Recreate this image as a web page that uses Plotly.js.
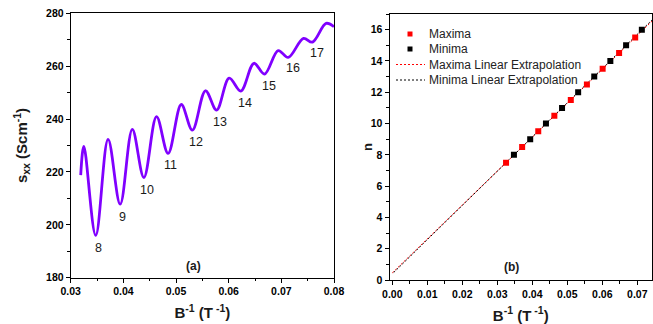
<!DOCTYPE html>
<html>
<head>
<meta charset="utf-8">
<script src="https://cdn.plot.ly/plotly-3.0.1.min.js"></script>
<style>html,body{margin:0;padding:0;background:#fff;}#chart{width:653px;height:324px;}</style>
</head>
<body>
<div id="chart"></div>
<script>
// ---- Data ----
// (a) sigma_xx vs inverse field: extrema of the oscillating curve plus end points
const curveX = [0.0319, 0.0325, 0.03475, 0.0371, 0.0394, 0.0417, 0.0439, 0.0463, 0.0485, 0.0510, 0.0531, 0.0556, 0.0577, 0.0601, 0.0623, 0.0648, 0.0668, 0.0694, 0.0713, 0.0742, 0.0759, 0.0785, 0.0800];
const curveY = [218.8, 229.7, 196.0, 232.3, 207.8, 236.1, 217.9, 240.9, 227.0, 245.5, 235.8, 250.7, 243.4, 255.5, 250.6, 261.1, 257.0, 265.9, 263.3, 270.5, 269.1, 276.2, 274.9];
// Landau level labels for the minima
const levelLabels = ['8', '9', '10', '11', '12', '13', '14', '15', '16', '17'];
const levelLabelX = [0.0352, 0.0398, 0.0444, 0.0490, 0.0537, 0.0583, 0.0631, 0.0676, 0.0723, 0.0768];
const levelLabelY = [191.4, 203.0, 213.1, 222.8, 231.4, 238.9, 246.2, 252.6, 259.4, 265.1];
// (b) Landau fan diagram
const maximaX = [0.0325, 0.0371, 0.0417, 0.0463, 0.0510, 0.0556, 0.0601, 0.0648, 0.0694];
const maximaN = [7.5, 8.5, 9.5, 10.5, 11.5, 12.5, 13.5, 14.5, 15.5];
const minimaX = [0.03475, 0.0394, 0.0439, 0.0485, 0.0531, 0.0577, 0.0623, 0.0668, 0.0713];
const minimaN = [8, 9, 10, 11, 12, 13, 14, 15, 16];
const extrapRange = [0, 0.075];
const seriesNames = ['Maxima', 'Minima', 'Maxima Linear Extrapolation', 'Minima Linear Extrapolation'];

// ---- helpers ----
function linfit(xs, ys) {
  const n = xs.length;
  const mx = xs.reduce((a, b) => a + b, 0) / n;
  const my = ys.reduce((a, b) => a + b, 0) / n;
  let sxy = 0, sxx = 0;
  for (let i = 0; i < n; i++) { sxy += (xs[i] - mx) * (ys[i] - my); sxx += (xs[i] - mx) ** 2; }
  const m = sxy / sxx;
  return { m: m, b: my - m * mx };
}
const W = 653, H = 324;
const px = v => v / W;
const py = v => 1 - v / H;

const fitMax = linfit(maximaX, maximaN);
const fitMin = linfit(minimaX, minimaN);

const FONT = 'Liberation Sans, Arial, sans-serif';
const TXT = '#1a1a1a';

const traces = [
  { x: curveX, y: curveY, xaxis: 'x', yaxis: 'y', mode: 'lines', type: 'scatter',
    line: { color: '#8000ff', width: 2.8, shape: 'spline', smoothing: 1 }, showlegend: false, hoverinfo: 'skip' },
  { x: extrapRange, y: extrapRange.map(v => fitMax.m * v + fitMax.b), xaxis: 'x2', yaxis: 'y2', mode: 'lines', type: 'scatter',
    name: seriesNames[2], line: { color: '#ff0000', width: 1, dash: '2px,2px' }, showlegend: false },
  { x: extrapRange, y: extrapRange.map(v => fitMin.m * v + fitMin.b), xaxis: 'x2', yaxis: 'y2', mode: 'lines', type: 'scatter',
    name: seriesNames[3], line: { color: '#000000', width: 1, dash: '0px,2px,2px,0px' }, showlegend: false },
  { x: maximaX, y: maximaN, xaxis: 'x2', yaxis: 'y2', mode: 'markers', type: 'scatter', name: seriesNames[0],
    marker: { symbol: 'square', size: 6, color: '#ff0000', line: { width: 0 } }, showlegend: false },
  { x: minimaX, y: minimaN, xaxis: 'x2', yaxis: 'y2', mode: 'markers', type: 'scatter', name: seriesNames[1],
    marker: { symbol: 'square', size: 6, color: '#000000', line: { width: 0 } }, showlegend: false }
];

const tickFont = { family: FONT, size: 10.5, color: '#000' };
const titleFont = { family: FONT, size: 15, color: TXT };

function baseAxis(extra) {
  return Object.assign({
    showgrid: false, zeroline: false, showline: true, linecolor: '#000', linewidth: 1,
    ticks: 'outside', ticklen: 4, tickwidth: 1, tickcolor: '#000', mirror: true,
    tickfont: tickFont, tickprefix: '<b>', ticksuffix: '</b>', automargin: false, fixedrange: true
  }, extra);
}
function mirrorAxis(extra) {
  return Object.assign({
    showgrid: false, zeroline: false, showline: false, ticks: 'inside', ticklen: 4, tickwidth: 1,
    tickcolor: '#000', showticklabels: false, automargin: false, fixedrange: true
  }, extra);
}

const dA_x = [px(70.7), px(334)], dA_y = [py(277.7), py(13.3)];
const dB_x = [px(389.5), px(652)], dB_y = [py(280), py(14)];

const layout = {
  width: W, height: H,
  margin: { l: 0, r: 0, t: 0, b: 0 },
  paper_bgcolor: '#fff', plot_bgcolor: '#fff',
  showlegend: false,
  font: { family: FONT, color: TXT },
  xaxis: baseAxis({ domain: dA_x, anchor: 'y', range: [0.03, 0.08], dtick: 0.01, tickformat: '.2f',
    minor: { ticks: 'outside', ticklen: 2.5, dtick: 0.005, tickcolor: '#000' },
    title: { text: '<b>B<sup>-1</sup> (T<sup> -1</sup>)</b>', font: titleFont, standoff: 11 } }),
  yaxis: baseAxis({ domain: dA_y, anchor: 'x', range: [180, 280], dtick: 20,
    minor: { ticks: 'outside', ticklen: 2.5, dtick: 10, tickcolor: '#000' },
    title: { text: '<b>s<sub>xx</sub> (Scm<sup>-1</sup>)</b>', font: titleFont, standoff: 14 } }),
  xaxis3: mirrorAxis({ overlaying: 'x', matches: 'x', side: 'top', anchor: 'y', range: [0.03, 0.08], dtick: 0.01,
    minor: { ticks: 'inside', ticklen: 2.5, dtick: 0.005, tickcolor: '#000' } }),
  yaxis3: mirrorAxis({ overlaying: 'y', matches: 'y', side: 'right', anchor: 'x', range: [180, 280], dtick: 20,
    minor: { ticks: 'inside', ticklen: 2.5, dtick: 10, tickcolor: '#000' } }),
  xaxis2: baseAxis({ domain: dB_x, anchor: 'y2', range: [-0.0008, 0.0742], tick0: 0, dtick: 0.01, tickformat: '.2f',
    minor: { ticks: 'outside', ticklen: 2.5, dtick: 0.005, tickcolor: '#000' },
    title: { text: '<b>B<sup>-1</sup> (T<sup> -1</sup>)</b>', font: titleFont, standoff: 11 } }),
  yaxis2: baseAxis({ domain: dB_y, anchor: 'x2', range: [0, 17], dtick: 2,
    minor: { ticks: 'outside', ticklen: 2.5, dtick: 1, tickcolor: '#000' } }),
  xaxis4: mirrorAxis({ overlaying: 'x2', matches: 'x2', side: 'top', anchor: 'y2', range: [-0.0008, 0.0742], tick0: 0, dtick: 0.01,
    minor: { ticks: 'inside', ticklen: 2.5, dtick: 0.005, tickcolor: '#000' } }),
  yaxis4: mirrorAxis({ overlaying: 'y2', matches: 'y2', side: 'right', anchor: 'x2', range: [0, 17], dtick: 2,
    minor: { ticks: 'inside', ticklen: 2.5, dtick: 1, tickcolor: '#000' } }),
  annotations: [],
  shapes: []
};

// Level labels
levelLabels.forEach((t, i) => {
  layout.annotations.push({ x: levelLabelX[i], y: levelLabelY[i], xref: 'x', yref: 'y', text: t, showarrow: false,
    font: { family: FONT, size: 12.5, color: TXT }, xanchor: 'center', yanchor: 'middle' });
});
// Panel labels
layout.annotations.push({ x: 0.0534, y: 184.3, xref: 'x', yref: 'y', text: '<b>(a)</b>', showarrow: false,
  font: { family: FONT, size: 12, color: TXT }, xanchor: 'center', yanchor: 'middle' });
layout.annotations.push({ x: 0.0341, y: 0.85, xref: 'x2', yref: 'y2', text: '<b>(b)</b>', showarrow: false,
  font: { family: FONT, size: 12, color: TXT }, xanchor: 'center', yanchor: 'middle' });
// y title of panel (b), placed close to the tick labels as in the reference
layout.annotations.push({ x: px(367), y: py(147), xref: 'paper', yref: 'paper', text: '<b>n</b>', showarrow: false,
  textangle: -90, font: { family: FONT, size: 13, color: TXT }, xanchor: 'center', yanchor: 'middle' });

// Manual legend
const legRows = [34, 49, 64.5, 80];
seriesNames.forEach((name, i) => {
  layout.annotations.push({ x: px(427), y: py(legRows[i]), xref: 'paper', yref: 'paper', text: name, showarrow: false,
    font: { family: FONT, size: 12, color: '#222' }, xanchor: 'left', yanchor: 'middle' });
});
[['#ff0000', legRows[0]], ['#000000', legRows[1]]].forEach(([c, yy]) => {
  layout.shapes.push({ type: 'rect', xref: 'paper', yref: 'paper', x0: px(407.5), x1: px(412.5), y0: py(yy + 2.5), y1: py(yy - 2.5),
    fillcolor: c, line: { width: 0 } });
});
layout.shapes.push({ type: 'line', xref: 'paper', yref: 'paper', x0: px(396), x1: px(425), y0: py(legRows[2]), y1: py(legRows[2]),
  line: { color: '#ff0000', width: 1, dash: '2px,2px' } });
layout.shapes.push({ type: 'line', xref: 'paper', yref: 'paper', x0: px(396), x1: px(425), y0: py(legRows[3]), y1: py(legRows[3]),
  line: { color: '#000000', width: 1, dash: '2px,2px' } });

Plotly.newPlot('chart', traces, layout, { displayModeBar: false, staticPlot: true });
</script>
</body>
</html>
